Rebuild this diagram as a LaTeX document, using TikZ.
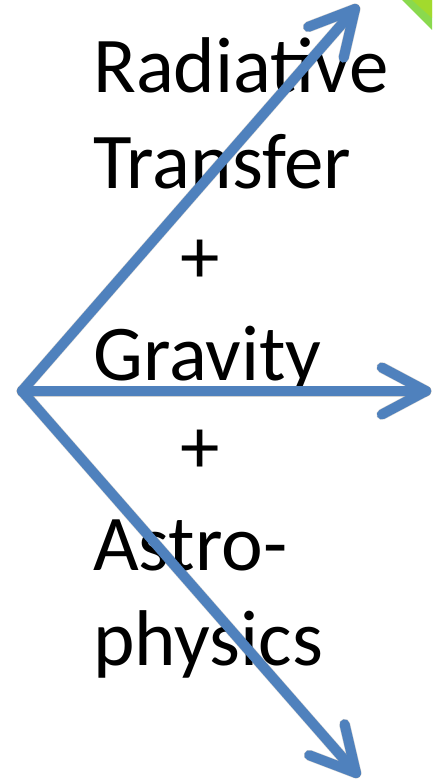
\documentclass[tikz,border=0pt]{standalone}
\usepackage{fontspec}
\setmainfont{Carlito}
\usetikzlibrary{calc}
\definecolor{arrblue}{HTML}{4F81BD}
\definecolor{blobgreen}{HTML}{8AD94E}
\tikzset{
  arr/.style={draw=arrblue, line width=10pt, line cap=round, line join=round},
  shad/.style={draw=black, opacity=0.18, line width=11pt, line cap=round, line join=round},
  bigtext/.style={anchor=base west, inner sep=0pt, font=\fontsize{79}{79}\selectfont}
}
\begin{document}
\begin{tikzpicture}[x=1pt,y=-1pt]
\useasboundingbox[fill=white] (0,0) rectangle (432,781);
% green blob top right
\fill[blobgreen] (402,0) -- (432,0) -- (432,30) -- cycle;
\fill[yellow!70!green, opacity=0.6] (412,0) -- (432,0) -- (432,18) -- cycle;
% coordinates
\coordinate (O) at (22,391);
\coordinate (T1) at (355,9);
\coordinate (T2) at (426,391);
\coordinate (T3) at (356,773);
% shadows
\begin{scope}[shift={(1.5,2.5)}]
\foreach \t in {T1,T2,T3}{
  \draw[shad] (O) -- (\t);
  \draw[shad] ($(\t)!50pt!28:(O)$) -- (\t) -- ($(\t)!50pt!-28:(O)$);
}
\end{scope}
% text
\node[bigtext] (rad) at (93,93) {Radiative};
\node[bigtext] (tra) at (93,188) {Transfer};
\node[bigtext, anchor=center] (p1) at (200,262) {+};
\node[bigtext] (gra) at (93,380) {Gravity};
\node[bigtext, anchor=center] (p2) at (200,452) {+};
\node[bigtext] (ast) at (93,570) {Astro-};
\node[bigtext] (phy) at (93,665) {physics};
% arrows
\foreach \t in {T1,T2,T3}{
  \draw[arr] (O) -- (\t);
  \draw[arr] ($(\t)!50pt!28:(O)$) -- (\t) -- ($(\t)!50pt!-28:(O)$);
}
\end{tikzpicture}
\end{document}
